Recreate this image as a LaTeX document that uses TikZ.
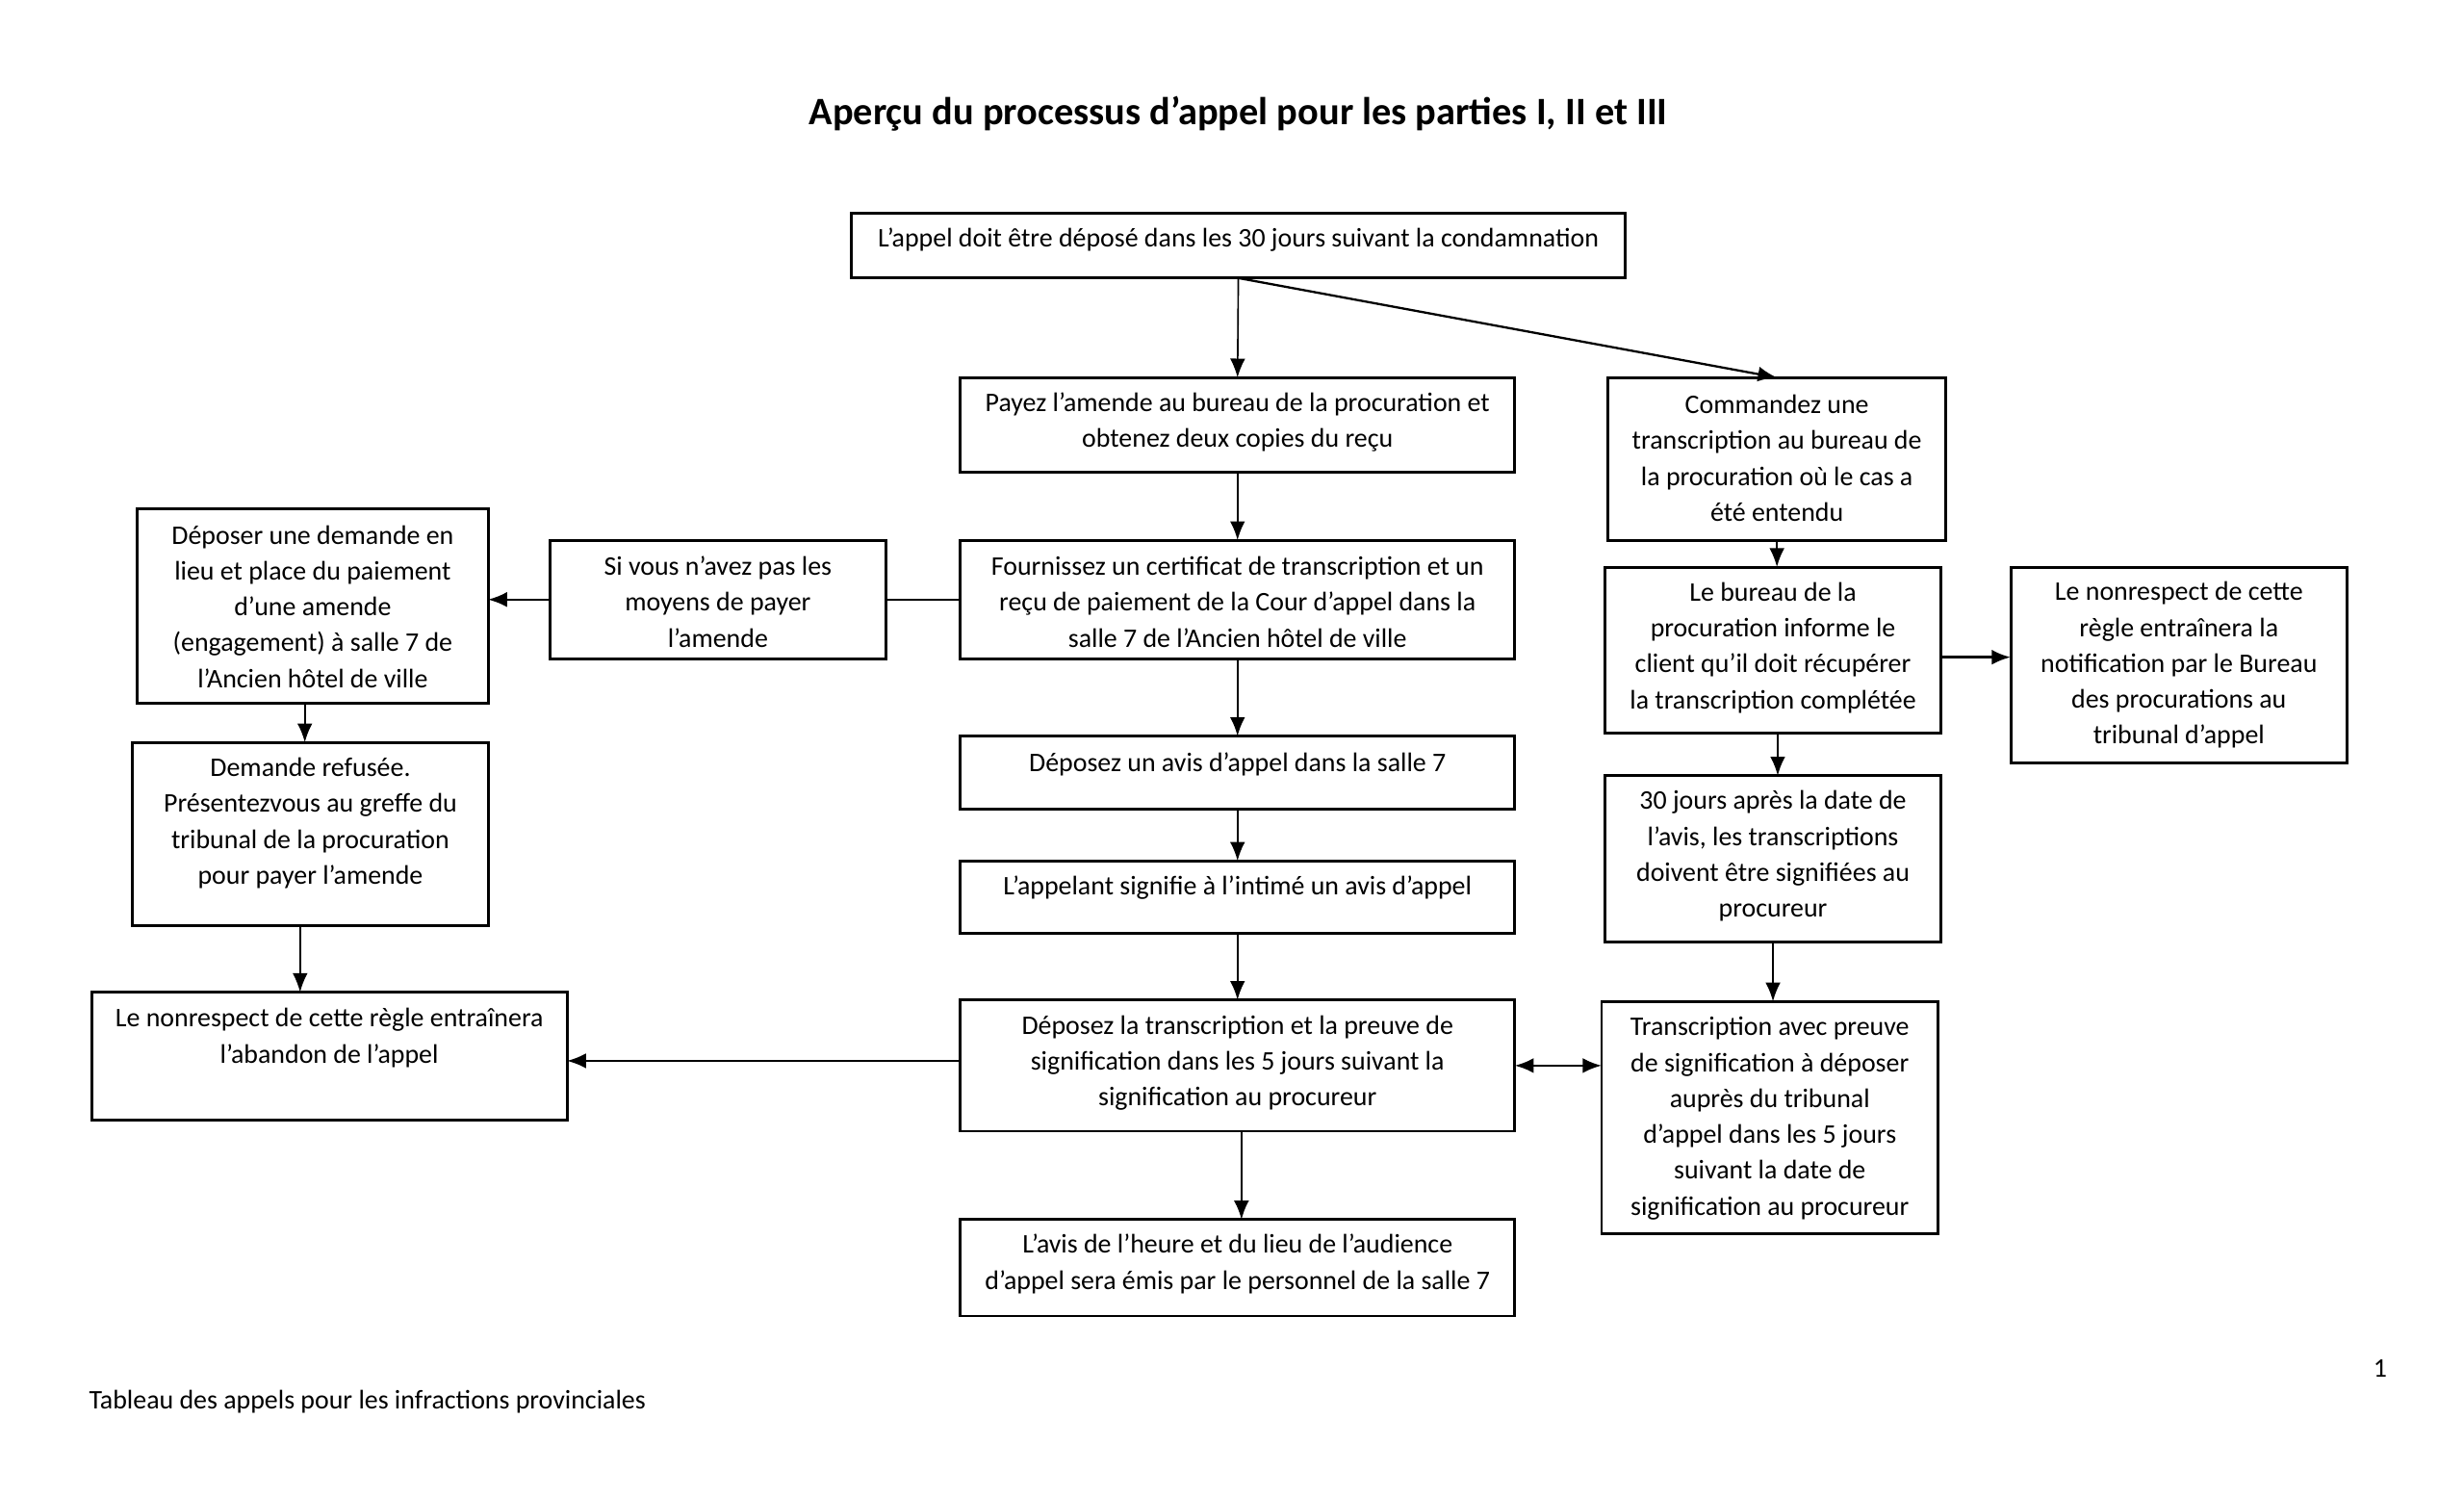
\documentclass[tikz,border=0pt]{standalone}
\usepackage{fontspec}
\setmainfont{Carlito}
\usetikzlibrary{arrows.meta,calc}
\newcommand\bx[7]{%
  \pgfmathsetmacro\bw{(#4-#2)*0.5}%
  \pgfmathsetmacro\bh{(#5-#3)*0.5}%
  \node[box, minimum width=\bw pt, minimum height=\bh pt] (#1) at ({(#2+#4)/2},{(#3+#5)/2}) {};
  \node[txt] (#1t) at ({(#2+#4)/2},#6) {#7};
}
\begin{document}
\begin{tikzpicture}[x=0.5pt,y=-0.5pt,
  box/.style={draw, line width=0.9pt, inner sep=0pt, outer sep=0pt},
  txt/.style={align=center, inner sep=0pt, font=\fontsize{8.5}{11.35}\selectfont},
  arr/.style={-{Latex[length=6pt,width=4.8pt]}, line width=0.7pt},
  darr/.style={{Latex[length=6pt,width=4.8pt]}-{Latex[length=6pt,width=4.8pt]}, line width=0.8pt},
  link/.style={line width=0.7pt}]
\useasboundingbox[fill=white] (0,0) rectangle (1560,947);

\node[font=\fontsize{12.3}{14}\selectfont\bfseries] (title) at (784,72) {Aperçu du processus d’appel pour les parties I, II et III};

\bx{top}{539}{135}{1029}{176}{152}{L’appel doit être déposé dans les 30 jours suivant la condamnation}
\bx{pay}{608}{239}{959}{299}{267}{Payez l’amende au bureau de la procuration et\\obtenez deux copies du reçu}
\bx{cmd}{1018}{239}{1232}{342}{290}{Commandez une\\transcription au bureau de\\la procuration où le cas a\\été entendu}
\bx{four}{608}{342}{959}{417}{381}{Fournissez un certificat de transcription et un\\reçu de paiement de la Cour d’appel dans la\\salle 7 de l’Ancien hôtel de ville}
\bx{si}{348}{342}{561}{417}{381}{Si vous n’avez pas les\\moyens de payer\\l’amende}
\bx{dep}{87}{322}{309}{445}{384}{Déposer une demande en\\lieu et place du paiement\\d’une amende\\(engagement) à salle 7 de\\l’Ancien hôtel de ville}
\bx{ref}{84}{470}{309}{586}{521}{Demande refusée.\\Présentezvous au greffe du\\tribunal de la procuration\\pour payer l’amende}
\bx{bur}{1016}{359}{1229}{464}{410}{Le bureau de la\\procuration informe le\\client qu’il doit récupérer\\la transcription complétée}
\bx{nrr}{1273}{359}{1486}{483}{421}{Le nonrespect de cette\\règle entraînera la\\notification par le Bureau\\des procurations au\\tribunal d’appel}
\bx{avis}{608}{466}{959}{512}{484}{Déposez un avis d’appel dans la salle 7}
\bx{tj}{1016}{491}{1229}{596}{542}{30 jours après la date de\\l’avis, les transcriptions\\doivent être signifiées au\\procureur}
\bx{app}{608}{545}{959}{591}{562}{L’appelant signifie à l’intimé un avis d’appel}
\bx{nrl}{58}{628}{359}{709}{657}{Le nonrespect de cette règle entraînera\\l’abandon de l’appel}
\bx{dt}{608}{633}{959}{716}{673}{Déposez la transcription et la preuve de\\signification dans les 5 jours suivant la\\signification au procureur}
\bx{tap}{1014}{634}{1227}{781}{708}{Transcription avec preuve\\de signification à déposer\\auprès du tribunal\\d’appel dans les 5 jours\\suivant la date de\\signification au procureur}
\bx{lav}{608}{772}{959}{833}{800}{L’avis de l’heure et du lieu de l’audience\\d’appel sera émis par le personnel de la salle 7}

\node[anchor=west, inner sep=0pt, font=\fontsize{8.5}{10}\selectfont] (foot) at (56,887) {Tableau des appels pour les infractions provinciales};
\node[inner sep=0pt, font=\fontsize{8.5}{10}\selectfont] (page) at (1507,866) {1};

% connectors
\draw[arr, line width=0.5pt] (top.south) -- (pay.north);
\draw[arr] (top.south) -- (cmd.north);
\draw[arr] (pay.south) -- (four.north);
\draw[link] (four.west) -- (si.east);
\draw[arr] (si.west) -- (si.west -| dep.east);
\draw[arr] ([xshift=-2.5pt]dep.south) -- ([xshift=-2.5pt]dep.south |- ref.north);
\draw[arr, line width=0.5pt] ([xshift=-3.25pt]ref.south) -- ([xshift=-3.25pt]ref.south |- nrl.north);
\draw[arr] (four.south) -- (avis.north);
\draw[arr] (avis.south) -- (app.north);
\draw[arr] (app.south) -- (dt.north);
\draw[arr] ([yshift=1.5pt]dt.west) -- ([yshift=1.5pt]dt.west -| nrl.east);
\draw[arr] ([xshift=1.25pt]dt.south) -- ([xshift=1.25pt]dt.south |- lav.north);
\draw[darr] (dt.east) -- (dt.east -| tap.west);
\draw[arr] (cmd.south) -- (cmd.south |- bur.north);
\draw[arr, line width=0.9pt] ([yshift=-2.25pt]bur.east) -- ([yshift=-2.25pt]bur.east -| nrr.west);
\draw[arr] ([xshift=1.5pt]bur.south) -- ([xshift=1.5pt]bur.south |- tj.north);
\draw[arr] (tj.south) -- (tj.south |- tap.north);
\end{tikzpicture}
\end{document}
